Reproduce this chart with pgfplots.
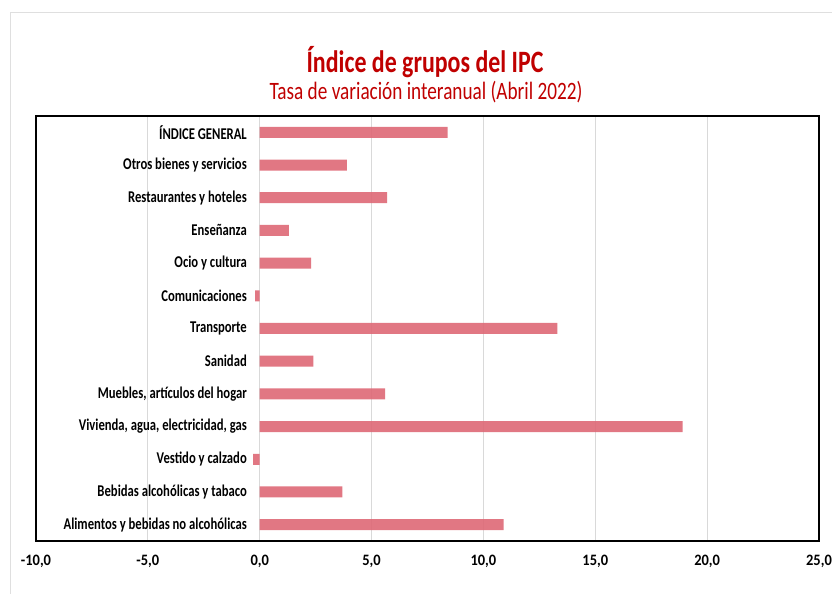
\documentclass[border=0pt]{standalone}
\usepackage{fontspec}
\setmainfont{Carlito}
\usepackage{pgfplots}
\pgfplotsset{compat=1.18}
\definecolor{barc}{RGB}{222,104,118}
\definecolor{titc}{RGB}{192,0,0}
\definecolor{gridc}{RGB}{217,217,217}
\begin{document}
\begin{tikzpicture}[x=1bp,y=1bp]
\path[use as bounding box] (0,0) rectangle (832,594);
\draw[gray!25, line width=0.8bp] (10,0) -- (10,582) -- (832,582);
\node[font=\fontsize{24}{28}\selectfont\bfseries, text=titc, yscale=1.3] at (425,532) {Índice de grupos del IPC};
\node[font=\fontsize{19.3}{22}\selectfont, text=titc, yscale=1.3] at (426,502) {Tasa de variación interanual (Abril 2022)};
\begin{axis}[
 at={(36bp,53bp)}, anchor=south west,
 width=783bp, height=425bp, scale only axis,
 xbar, bar width=11bp,
 xmin=-10, xmax=25, ymin=-0.5, ymax=12.5,
 xtick={-10,-5,0,5,10,15,20,25},
 xticklabels={{-10,0},{-5,0},{0,0},{5,0},{10,0},{15,0},{20,0},{25,0}},
 xmajorgrids, grid style={gridc, line width=1bp},
 major tick length=0,
 axis line style={black, line width=1.3bp},
 ytick={0,1,2,3,4,5,6,7,8,9,10,11,12},
 yticklabels={Alimentos y bebidas no alcohólicas, Bebidas alcohólicas y tabaco, Vestido y calzado, {Vivienda, agua, electricidad, gas}, {Muebles, artículos del hogar}, Sanidad, Transporte, Comunicaciones, Ocio y cultura, Enseñanza, Restaurantes y hoteles, Otros bienes y servicios, ÍNDICE GENERAL},
 yticklabel style={font=\fontsize{12.7}{14}\selectfont\bfseries, anchor=east, inner sep=0pt, xshift=211bp, yscale=1.3},
 xticklabel style={font=\fontsize{14.5}{16}\selectfont\bfseries, inner sep=0pt, anchor=north, yshift=-14bp, yscale=1.1},
]
\addplot[fill=barc, draw=none, fill opacity=0.9] coordinates {(10.9,0) (3.7,1) (-0.3,2) (18.9,3) (5.6,4) (2.4,5) (13.3,6) (-0.2,7) (2.3,8) (1.3,9) (5.7,10) (3.9,11) (8.4,12)};
\end{axis}
\end{tikzpicture}
\end{document}
